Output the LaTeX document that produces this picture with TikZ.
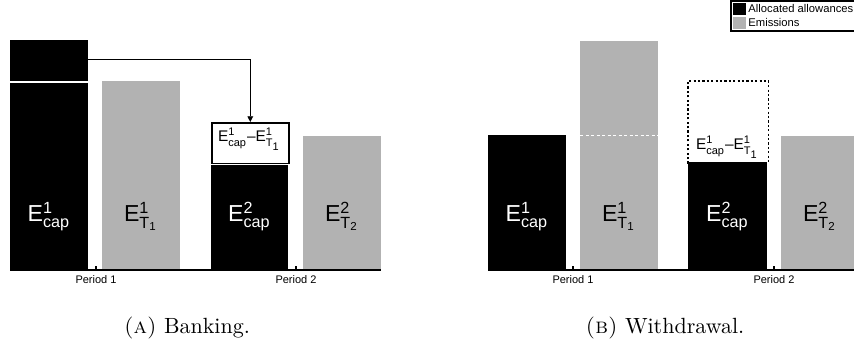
\documentclass[tikz,border=0pt]{standalone}
\usepackage{amsmath}
\usepackage{fontspec}
\newfontfamily\helv{Liberation Sans}
\usetikzlibrary{arrows.meta}

\definecolor{emisgray}{gray}{0.7}
\tikzset{
  alloc/.style={fill=black},
  emis/.style={fill=emisgray},
  axisline/.style={line width=0.5pt},
  barlabel/.style={font=\helv\fontsize{10.5}{12}\selectfont,anchor=base,inner sep=0pt},
  gaplabel/.style={font=\helv\fontsize{7}{8}\selectfont,anchor=base,inner sep=0pt},
  axislabel/.style={font=\helv\fontsize{5}{6}\selectfont,anchor=base,inner sep=0pt},
  legendlabel/.style={font=\helv\fontsize{5.1}{6}\selectfont,anchor=base west,inner sep=0pt},
  gapbox/.style={draw,line width=0.7pt,fill=white,anchor=north west,inner sep=0pt},
}
\newcommand{\Ecap}[1]{E$^{\text{#1}}_{\text{cap}}$}
\newcommand{\ET}[1]{E$^{\text{#1}}_{\text{T}_{\text{#1}}}$}

\begin{document}
\begin{tikzpicture}[x=0.4545pt,y=-0.4545pt]
        \useasboundingbox (0,0) rectangle (854,348);

        % (a) banking
        \fill[alloc] (10,40) rectangle (88,270);
        \draw[white,line width=0.5pt] (10,82) -- (88,82);
        \fill[emis] (102,81) rectangle (180,270);
        \fill[alloc] (211,165) rectangle (288,270);
        \fill[emis] (303,136) rectangle (381,270);
        \node[gapbox,minimum width=35pt,minimum height=18.6pt] (bank) at (211,122) {};
        \coordinate (surplus) at (88,59);
        \draw[-{Triangle[length=2.6pt,width=2.6pt]}] (surplus) -| (bank.north);
        \draw[axisline] (10,270) -- (381,270);

        \node[barlabel,white] (cap1a) at (49,222) {\Ecap{1}};
        \node[barlabel] (em1a) at (141,222) {\ET{1}};
        \node[barlabel,white] (cap2a) at (249.5,222) {\Ecap{2}};
        \node[barlabel] (em2a) at (342,222) {\ET{2}};
        \node[gaplabel] (banklabel) at (249.5,142) {\Ecap{1}\textendash\ET{1}};

        % (b) withdrawal
        \fill[alloc] (488,135) rectangle (566,270);
        \fill[emis] (580,41) rectangle (658,270);
        \draw[white,dash pattern=on 1.5pt off 1pt,line width=0.4pt] (580,135) -- (658,135);
        \fill[alloc] (688,162) rectangle (767,270);
        \fill[emis] (781,136) rectangle (859,270);
        \node[gapbox,draw=none,fill=none,minimum width=35.9pt,minimum height=36.8pt] (withdraw) at (688,81) {};
        \draw[dash pattern=on 1pt off 1pt,line width=0.5pt] (withdraw.south west) |- (withdraw.north east) -- (withdraw.south east);
        \draw[axisline] (488,270) -- (859,270);

        \node[barlabel,white] (cap1b) at (527,222) {\Ecap{1}};
        \node[barlabel] (em1b) at (619,222) {\ET{1}};
        \node[barlabel,white] (cap2b) at (727.5,222) {\Ecap{2}};
        \node[barlabel] (em2b) at (820,222) {\ET{2}};
        \node[gaplabel] (withdrawlabel) at (727.5,150) {\Ecap{1}\textendash\ET{1}};

        % ticks and periods
        \foreach \x/\p in {96/1,296/2,573/1,774/2} {
          \draw[axisline] (\x,270) -- (\x,266.5);
          \node[axislabel] (period\x) at (\x,284) {Period \p};
        }

        % legend
        \draw[axisline,fill=white] (731,1) rectangle (860,31);
        \fill[alloc] (733,3) rectangle (746,15);
        \fill[emis] (733,17) rectangle (746,29);
        \node[legendlabel] (legalloc) at (748,13) {Allocated allowances};
        \node[legendlabel] (legemis) at (748,27) {Emissions};

        % captions
        \node[anchor=base] (capa) at (187,334) {\textsc{(a)} Banking.};
        \node[anchor=base] (capb) at (665,334) {\textsc{(b)} Withdrawal.};
      \end{tikzpicture}
\end{document}
